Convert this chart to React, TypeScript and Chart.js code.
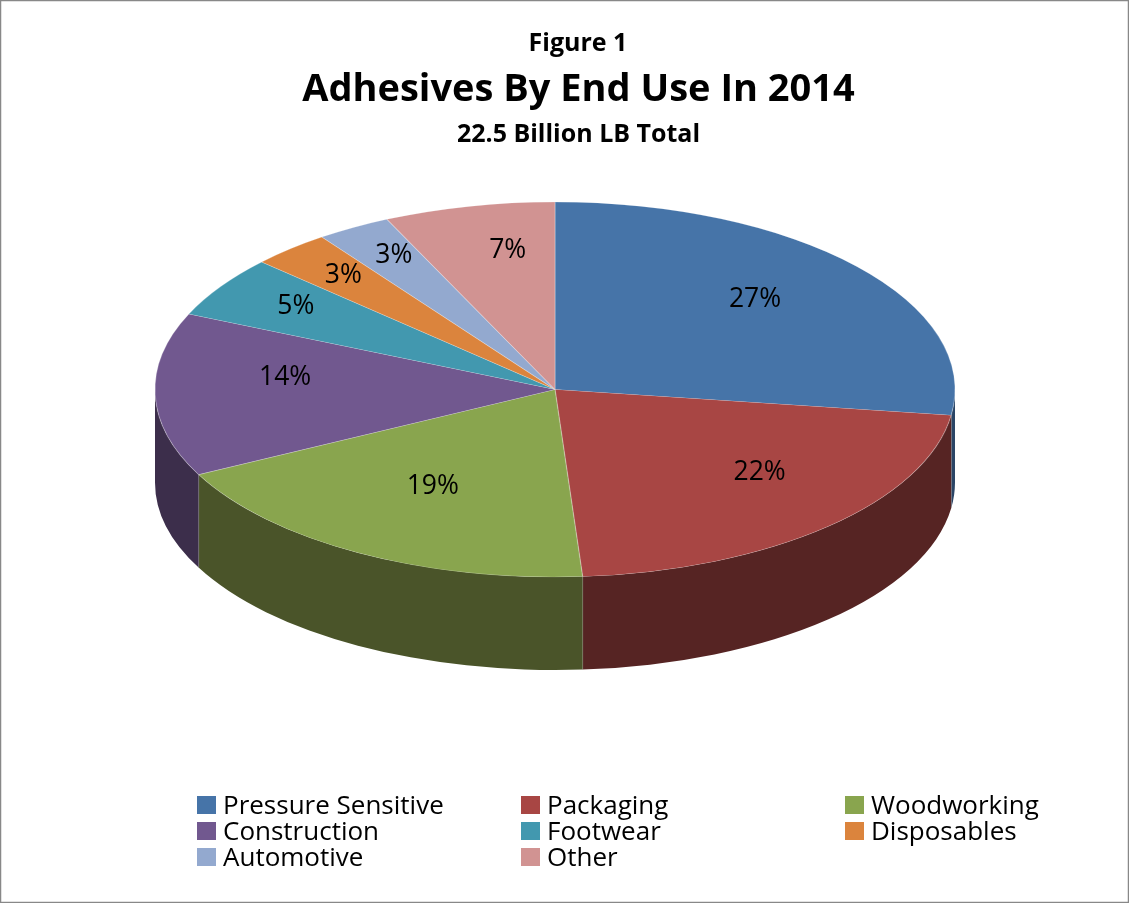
import React, { useEffect, useRef } from "react";
import { Chart, registerables } from "chart.js";

Chart.register(...registerables);

const categories = ["Pressure Sensitive", "Packaging", "Woodworking", "Construction", "Footwear", "Disposables", "Automotive", "Other"];
const shares = [27.2, 21.7, 18.6, 14.1, 5.3, 3.2, 3.0, 6.9];
const topColors = ["#4674A8", "#A84644", "#89A54E", "#71588F", "#4298AF", "#DB843D", "#93A9CF", "#D19392"];
const wallColors = ["#2A4566", "#562423", "#4A5429", "#3C2E4B", "#265C6A", "#854F22", "#58667E", "#7F5958"];
const labelReach = [0.663, 0.75, 0.62, 0.675, 0.775, 0.8, 0.8, 0.55];
const labelLift = [8, 20, 4, 16, 3, 2, 4, 38];

const figureText = "Figure 1";
const titleText = "Adhesives By End Use In 2014";
const subtitleText = "22.5 Billion LB Total";
const FONT = '"Open Sans", "Noto Sans", sans-serif';

const W = 1129;
const H = 903;
const view = { cx: 555, cy: 389.5, rx: 400, ry: 187.5, depth: 93 };
const legendBox = { left: 197, top: 796, colStep: 324, rowStep: 26, swatchW: 19, swatchH: 18, gap: 7, font: 26 };

const pie3d = {
  id: "pie3d",
  beforeDatasetsDraw(chart: any) {
    const ctx = chart.ctx;
    const arcs = chart.getDatasetMeta(0).data;
    const { cx, cy, rx, ry, depth } = view;
    ctx.save();
    arcs.forEach((arc: any, i: number) => {
      const a0 = Math.max(arc.startAngle, 0);
      const a1 = Math.min(arc.endAngle, Math.PI);
      if (a1 <= a0) return;
      ctx.beginPath();
      ctx.ellipse(cx, cy, rx, ry, 0, a0, a1, false);
      ctx.ellipse(cx, cy + depth, rx, ry, 0, a1, a0, true);
      ctx.closePath();
      ctx.fillStyle = wallColors[i];
      ctx.fill();
      ctx.strokeStyle = "rgba(190,190,190,0.55)";
      ctx.lineWidth = 1;
      if (arc.endAngle < Math.PI && arc.endAngle > 0) {
        const x = cx + rx * Math.cos(arc.endAngle);
        const y = cy + ry * Math.sin(arc.endAngle);
        ctx.beginPath();
        ctx.moveTo(x, y);
        ctx.lineTo(x, y + depth);
        ctx.stroke();
      }
    });
    ctx.restore();
    const first = arcs[0];
    const r = first.outerRadius;
    ctx.save();
    ctx.translate(cx, cy);
    ctx.scale(rx / r, ry / r);
    ctx.translate(-first.x, -first.y);
  },
  afterDatasetsDraw(chart: any) {
    const ctx = chart.ctx;
    ctx.restore();
    const arcs = chart.getDatasetMeta(0).data;
    const { cx, cy, rx, ry } = view;
    ctx.save();
    ctx.fillStyle = "#000";
    ctx.font = `26.5px ${FONT}`;
    ctx.textAlign = "center";
    ctx.textBaseline = "middle";
    arcs.forEach((arc: any, i: number) => {
      const mid = (arc.startAngle + arc.endAngle) / 2;
      const x = cx + rx * labelReach[i] * Math.cos(mid);
      const y = cy + ry * labelReach[i] * Math.sin(mid) - labelLift[i];
      ctx.fillText(`${Math.round(shares[i])}%`, x, y);
    });
    ctx.restore();
  },
  afterDraw(chart: any) {
    const ctx = chart.ctx;
    ctx.save();
    ctx.fillStyle = "#000";
    ctx.textBaseline = "middle";
    ctx.textAlign = "center";
    ctx.font = `bold 25px ${FONT}`;
    ctx.fillText(figureText, 578, 44);
    ctx.textAlign = "left";
    ctx.font = `${legendBox.font}px ${FONT}`;
    categories.forEach((name, i) => {
      const col = i % 3;
      const row = Math.floor(i / 3);
      const x = legendBox.left + col * legendBox.colStep;
      const y = legendBox.top + row * legendBox.rowStep;
      ctx.fillStyle = topColors[i];
      ctx.fillRect(x, y, legendBox.swatchW, legendBox.swatchH);
      ctx.fillStyle = "#000";
      ctx.fillText(name, x + legendBox.swatchW + legendBox.gap, y + legendBox.swatchH / 2 + 2);
    });
    ctx.strokeStyle = "#888888";
    ctx.lineWidth = 1.5;
    ctx.strokeRect(0.5, 0.5, W - 1, H - 1);
    ctx.restore();
  },
};

export default function App() {
  const ref = useRef<HTMLCanvasElement>(null);
  useEffect(() => {
    const chart = new Chart(ref.current!, {
      type: "pie",
      data: {
        labels: categories,
        datasets: [
          {
            data: shares,
            backgroundColor: topColors,
            borderColor: "rgba(255,255,255,0.25)",
            borderWidth: 1,
            clip: false,
          } as any,
        ],
      },
      options: {
        responsive: false,
        animation: false,
        devicePixelRatio: 1,
        layout: { padding: { top: 67, left: 28, bottom: 100 } },
        plugins: {
          legend: { display: false },
          tooltip: { enabled: false },
          title: {
            display: true,
            text: titleText,
            color: "#000",
            font: { family: FONT, size: 38, weight: "bold" },
            padding: { top: 0, bottom: 7 },
          },
          subtitle: {
            display: true,
            text: subtitleText,
            color: "#000",
            font: { family: FONT, size: 25, weight: "bold" },
            padding: { top: 0, bottom: 10 },
          },
        },
      },
      plugins: [pie3d],
    } as any);
    return () => chart.destroy();
  }, []);
  return (
    <div style={{ position: "absolute", left: 0, top: 0, width: W, height: H, background: "#fff" }}>
      <canvas ref={ref} width={W} height={H} style={{ display: "block" }} />
    </div>
  );
}
